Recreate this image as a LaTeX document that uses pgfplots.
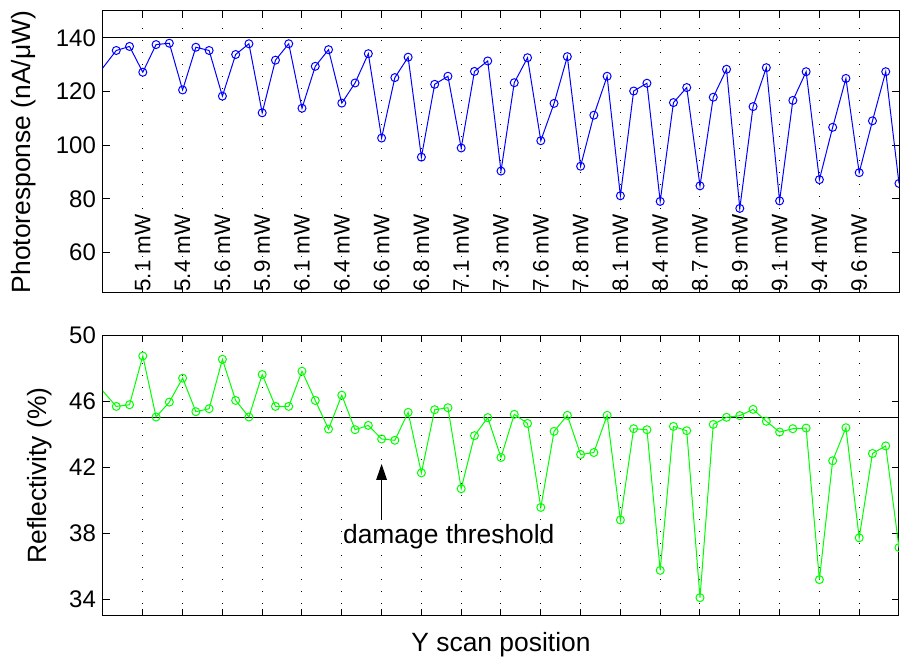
\documentclass[border=0pt]{standalone}
\usepackage{fontspec}
\setmainfont{Liberation Sans}
\usepackage{pgfplots}
\usepackage{pgfplotstable}
\pgfplotsset{compat=1.18}
\usetikzlibrary{arrows.meta}

% i = scan step, pr = photoresponse (nA/uW), rf = reflectivity (%)
% the first step lies just left of the visible window
\pgfplotstableread{
i pr rf
-1 122.5 47.52
1 135.3 45.68
2 136.8 45.78
3 127.2 48.73
4 137.5 45.04
5 138.0 45.94
6 120.6 47.39
7 136.5 45.36
8 135.3 45.54
9 118.3 48.53
10 133.8 46.04
11 137.8 45.04
12 112.1 47.61
13 131.7 45.68
14 137.8 45.68
15 113.8 47.81
16 129.4 46.04
17 135.6 44.31
18 115.7 46.36
19 123.2 44.27
20 134.1 44.53
21 102.7 43.71
22 125.2 43.63
23 132.8 45.32
24 95.6 41.66
25 122.7 45.48
26 125.7 45.60
27 99.0 40.70
28 127.5 43.91
29 131.4 45.00
30 90.4 42.59
31 123.3 45.20
32 132.6 44.65
33 101.7 39.57
34 115.6 44.17
35 133.0 45.14
36 92.2 42.77
37 111.2 42.89
38 125.7 45.14
39 81.2 38.81
40 120.2 44.33
41 123.1 44.27
42 79.1 35.76
43 115.9 44.47
44 121.5 44.21
45 84.9 34.11
46 117.9 44.59
47 128.3 45.02
48 76.5 45.12
49 114.4 45.50
50 128.9 44.78
51 79.3 44.13
52 116.7 44.33
53 127.4 44.37
54 87.2 35.20
55 106.7 42.39
56 124.9 44.39
57 89.8 37.73
58 109.1 42.83
59 127.4 43.29
60 85.8 37.14
}\scandata

\pgfplotsset{
  matlab/.style={
    scale only axis, width=398pt,
    xmin=0, xmax=60, xtick={3,6,...,57}, xticklabels={},
    xmajorgrids,
    major grid style={black, line width=0.5pt, dash pattern=on 0.5pt off 5.5pt},
    tick align=inside, major tick length=3.5pt,
    xtick pos=both, ytick pos=both,
    axis line style={line width=0.5pt},
    every tick/.style={black, line width=0.5pt},
    tick label style={font=\fontsize{12}{14}\selectfont},
    label style={font=\fontsize{13.2}{15}\selectfont},
    /pgf/number format/assume math mode=true,
    clip marker paths=true,
  },
}
\tikzset{pw/.style={rotate=90, anchor=west, inner sep=0.5pt, font=\fontsize{11.2}{13}\selectfont}}

\begin{document}
\begin{tikzpicture}
\begin{axis}[matlab, name=top, at={(0,0)}, anchor=south west, height=141pt,
  ymin=45, ymax=150, ytick={60,80,...,140},
  ylabel={Photoresponse (nA/μW)},
  ylabel style={at={(axis description cs:-0.0993,0.5)}, anchor=center}]
\addplot[black, line width=0.5pt] coordinates {(0,140) (60,140)};
\addplot[color={rgb,255:red,0;green,0;blue,255}, line width=0.5pt, mark=o, mark size=2pt] table[x=i, y=pr] {\scandata};
\node[pw] at (axis cs:3,45) {5.1 mW};
\node[pw] at (axis cs:6,45) {5.4 mW};
\node[pw] at (axis cs:9,45) {5.6 mW};
\node[pw] at (axis cs:12,45) {5.9 mW};
\node[pw] at (axis cs:15,45) {6.1 mW};
\node[pw] at (axis cs:18,45) {6.4 mW};
\node[pw] at (axis cs:21,45) {6.6 mW};
\node[pw] at (axis cs:24,45) {6.8 mW};
\node[pw] at (axis cs:27,45) {7.1 mW};
\node[pw] at (axis cs:30,45) {7.3 mW};
\node[pw] at (axis cs:33,45) {7.6 mW};
\node[pw] at (axis cs:36,45) {7.8 mW};
\node[pw] at (axis cs:39,45) {8.1 mW};
\node[pw] at (axis cs:42,45) {8.4 mW};
\node[pw] at (axis cs:45,45) {8.7 mW};
\node[pw] at (axis cs:48,45) {8.9 mW};
\node[pw] at (axis cs:51,45) {9.1 mW};
\node[pw] at (axis cs:54,45) {9.4 mW};
\node[pw] at (axis cs:57,45) {9.6 mW};
\end{axis}

\begin{axis}[matlab, name=bottom, at={(0,-161.5pt)}, anchor=south west, height=140.5pt,
  ymin=33, ymax=50, ytick={34,38,...,50},
  ylabel={Reflectivity (\%)},
  ylabel style={at={(axis description cs:-0.0791,0.5)}, anchor=center},
  xlabel={Y scan position},
  xlabel style={at={(axis description cs:0.5,-0.1032)}, anchor=center}]
\addplot[black, line width=0.5pt] coordinates {(0,45) (60,45)};
\addplot[color={rgb,255:red,0;green,255;blue,0}, line width=0.5pt, mark=o, mark size=2pt] table[x=i, y=rf] {\scandata};
\draw[black, line width=0.6pt, -{Triangle[length=8pt, width=5.3pt]}] (axis cs:21,38.8) -- (axis cs:21,42.2);
\node[anchor=west, inner sep=0pt, font=\fontsize{13.2}{15}\selectfont] at (axis cs:18.07,37.8) {damage threshold};
\end{axis}

\pgfresetboundingbox
\path[use as bounding box] (-51.5pt,-185.5pt) rectangle (399pt,146.5pt);
\end{tikzpicture}
\end{document}
